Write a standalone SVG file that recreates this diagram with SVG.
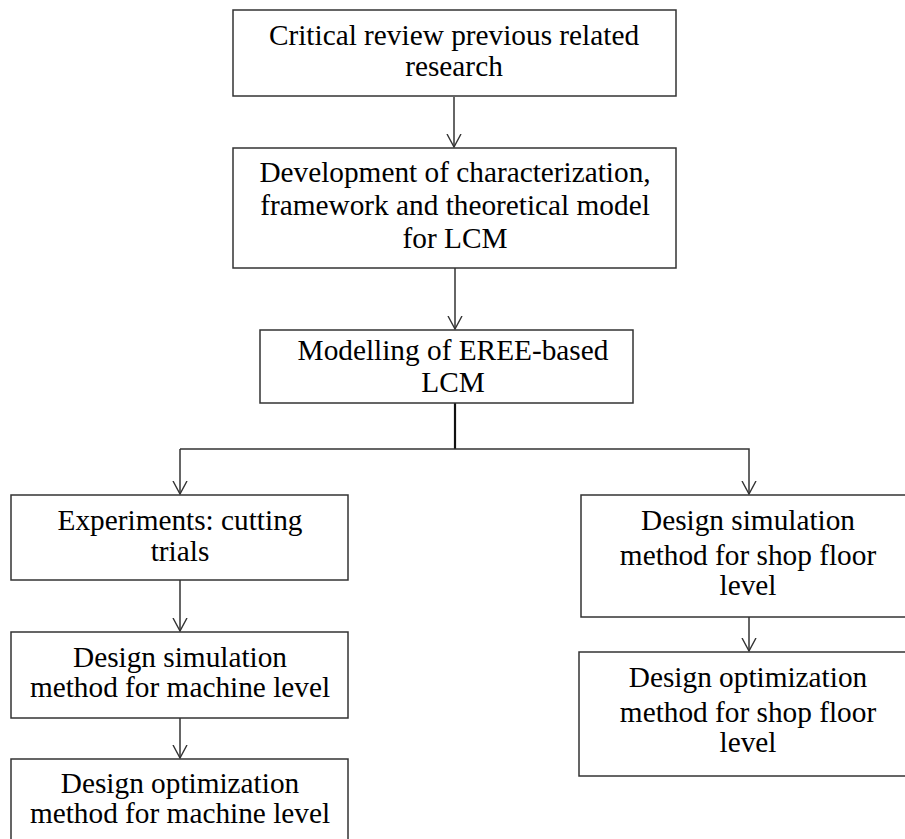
<svg xmlns="http://www.w3.org/2000/svg" width="905" height="839" viewBox="0 0 905 839">
  <style>
    .box { fill: #ffffff; stroke: #333333; stroke-width: 1.5; }
    .lbl { font-family: "Liberation Serif", "Times New Roman", serif; font-size: 29.3px; fill: #000000; text-anchor: middle; }
    .wire { fill: none; stroke: #333333; stroke-width: 1.5; }
  </style>
  <defs>
    <!-- open V arrowhead -->
    <marker id="vee" viewBox="0 0 14 16" refX="13" refY="8" markerWidth="14" markerHeight="16" markerUnits="userSpaceOnUse" orient="auto">
      <path d="M0,1 L13,8 L0,15" fill="none" stroke="#333333" stroke-width="1.4"/>
    </marker>
  </defs>
  <rect width="905" height="839" fill="#ffffff"/>

  <g id="connectors">
    <line class="wire" x1="454" y1="97" x2="454" y2="147" marker-end="url(#vee)"/>
    <line class="wire" x1="455" y1="268" x2="455" y2="329" marker-end="url(#vee)"/>
    <line x1="455" y1="403" x2="455" y2="449" stroke="#111111" stroke-width="2.2"/>
    <polyline class="wire" points="180,449 749,449 749,494" marker-end="url(#vee)"/>
    <line class="wire" x1="180" y1="449" x2="180" y2="494" marker-end="url(#vee)"/>
    <line class="wire" x1="180" y1="580" x2="180" y2="631" marker-end="url(#vee)"/>
    <line class="wire" x1="180" y1="718" x2="180" y2="758" marker-end="url(#vee)"/>
    <line class="wire" x1="749" y1="617" x2="749" y2="651" marker-end="url(#vee)"/>
  </g>

  <g id="review">
    <rect class="box" x="233" y="10" width="443" height="86"/>
    <text class="lbl" x="454" y="45">Critical review previous related</text>
    <text class="lbl" x="454" y="76">research</text>
  </g>

  <g id="development">
    <rect class="box" x="233" y="148" width="443" height="120"/>
    <text class="lbl" x="455" y="182">Development of characterization,</text>
    <text class="lbl" x="455" y="215">framework and theoretical model</text>
    <text class="lbl" x="455" y="248">for LCM</text>
  </g>

  <g id="modelling">
    <rect class="box" x="260" y="330" width="373" height="73"/>
    <text class="lbl" x="453" y="360">Modelling of EREE-based</text>
    <text class="lbl" x="453" y="392">LCM</text>
  </g>

  <g id="experiments">
    <rect class="box" x="11" y="495" width="337" height="85"/>
    <text class="lbl" x="180" y="530">Experiments: cutting</text>
    <text class="lbl" x="180" y="561">trials</text>
  </g>

  <g id="sim-machine">
    <rect class="box" x="11" y="632" width="337" height="86"/>
    <text class="lbl" x="180" y="667">Design simulation</text>
    <text class="lbl" x="180" y="697">method for machine level</text>
  </g>

  <g id="opt-machine">
    <rect class="box" x="11" y="759" width="337" height="100"/>
    <text class="lbl" x="180" y="793">Design optimization</text>
    <text class="lbl" x="180" y="823">method for machine level</text>
  </g>

  <g id="sim-shop">
    <rect class="box" x="581" y="495" width="340" height="122"/>
    <text class="lbl" x="748" y="530">Design simulation</text>
    <text class="lbl" x="748" y="565">method for shop floor</text>
    <text class="lbl" x="748" y="595">level</text>
  </g>

  <g id="opt-shop">
    <rect class="box" x="579" y="652" width="342" height="124"/>
    <text class="lbl" x="748" y="687">Design optimization</text>
    <text class="lbl" x="748" y="722">method for shop floor</text>
    <text class="lbl" x="748" y="752">level</text>
  </g>
</svg>
